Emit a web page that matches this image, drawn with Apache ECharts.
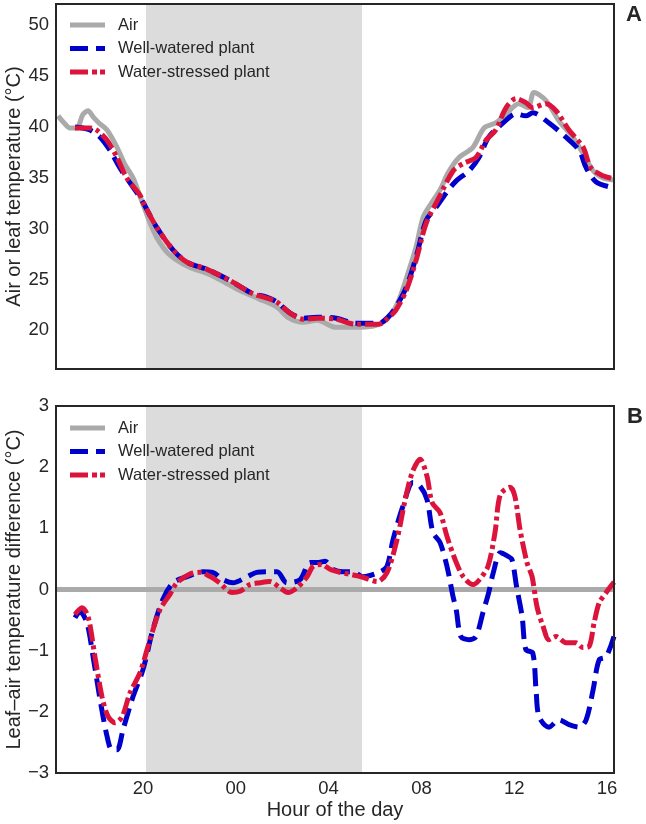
<!DOCTYPE html>
<html>
<head>
<meta charset="utf-8">
<script src="https://cdn.jsdelivr.net/npm/echarts@6/dist/echarts.min.js"></script>
<style>html,body{margin:0;padding:0;background:#fff}#c{width:646px;height:824px}</style>
</head>
<body>
<div id="c"></div>
<script>
// Hours since 16:00 of day 1 (4 = 20:00, 8 = 00:00, ... 24 = 16:00 next day)
const xTickPos = [4, 8, 12, 16, 20, 24];
const xTickLabels = ['20', '00', '04', '08', '12', '16'];
const yTicksTop = [20, 25, 30, 35, 40, 45, 50];
const yTicksBottom = [-3, -2, -1, 0, 1, 2, 3];
const nightStart = 4.13, nightEnd = 13.44;
const seriesNames = ['Air', 'Well-watered plant', 'Water-stressed plant'];

// Panel A: temperatures (°C)
const airT = [0.34,0.6,0.85,1.15,1.4,1.63,1.85,2.1,2.45,2.88,3.2,3.57,3.87,4.1,4.35,4.6,5.03,5.46,6.0,6.76,7.3,8.2,9.0,9.76,10.3,10.9,11.5,12.32,13.18,14.04,14.6,15.03,15.46,15.77,16.07,16.4,16.8,17.15,17.62,18.22,18.7,19.2,19.65,20.2,20.6,20.85,21.37,21.93,22.53,22.97,23.4,23.83,24.3];
const airV = [41.1,40.4,39.9,39.9,41.2,41.6,41.0,40.4,39.7,38.0,36.4,35.0,33.2,31.8,30.3,29.1,27.7,26.9,26.2,25.6,25.0,23.9,23.1,22.3,21.2,20.8,21.0,20.3,20.3,20.5,21.3,23.0,25.9,28.2,31.1,32.4,33.8,35.5,37.0,38.0,39.9,40.4,41.3,42.3,41.9,43.4,42.6,40.6,39.0,37.4,35.7,35.0,34.8];

const wellT = [1.07,1.4,1.72,2.15,2.58,3.0,3.44,3.87,4.0,4.6,5.3,5.9,6.76,7.75,8.74,9.3,9.76,10.34,10.9,11.5,12.32,13.18,14.17,14.56,14.9,15.34,15.77,16.2,16.63,17.06,17.5,18.05,18.48,18.9,19.52,20.08,20.5,20.8,21.5,22.23,22.8,23.1,23.53,24.3];
const wellV = [40.0,39.9,39.7,39.0,37.7,36.0,34.5,33.1,32.6,30.1,27.9,26.7,26.0,24.9,23.6,23.3,22.8,21.7,21.2,21.3,21.2,20.7,20.7,21.3,22.3,24.2,27.2,30.8,32.1,33.5,34.7,35.7,37.0,39.0,40.4,41.3,41.1,41.4,40.4,39.0,37.7,36.0,34.6,34.0];

const stressT = [1.07,1.4,1.72,2.0,2.45,2.88,3.3,3.87,4.0,4.6,5.3,5.9,6.76,7.75,8.74,9.3,9.76,10.34,10.9,11.5,12.32,13.18,14.17,14.56,14.9,15.34,15.77,16.2,16.7,17.37,17.8,18.35,18.78,19.2,19.65,20.08,20.5,20.8,21.37,21.8,22.36,22.97,23.3,23.83,24.3];
const stressV = [39.9,39.9,39.9,39.7,38.7,37.0,35.0,33.3,32.6,30.1,27.9,26.7,26.0,24.9,23.6,23.2,22.8,21.7,21.1,21.2,21.1,20.6,20.6,21.2,22.0,23.9,26.9,30.5,32.8,35.7,36.4,37.0,38.7,39.7,41.9,42.8,42.4,41.9,42.3,41.6,39.7,38.0,36.0,35.2,34.9];

// Panel B: leaf–air differences (°C)
const airDiffT = [0.25, 24.3];
const airDiffV = [0, 0];

const wellDiffT = [1.07,1.28,1.58,1.85,2.15,2.45,2.66,2.88,3.14,3.57,4.0,4.43,4.86,5.3,5.9,6.6,7.0,7.45,7.88,8.5,8.9,9.35,9.78,10.2,10.77,11.2,11.5,11.85,12.19,12.62,13.05,13.48,14.22,14.52,14.78,15.2,15.64,15.94,16.24,16.5,16.8,17.1,17.36,17.5,17.7,18.05,18.35,18.65,18.9,19.1,19.4,19.7,19.9,20.1,20.34,20.5,20.8,20.94,21.07,21.5,21.93,22.36,22.8,23.1,23.4,23.66,23.96,24.3];
const wellDiffV = [-0.46,-0.36,-0.54,-1.1,-1.8,-2.4,-2.62,-2.62,-2.29,-1.75,-1.31,-0.65,-0.16,0.11,0.21,0.29,0.28,0.16,0.11,0.21,0.28,0.29,0.29,0.11,0.16,0.44,0.44,0.46,0.33,0.29,0.29,0.21,0.29,0.38,0.82,1.36,1.75,1.69,1.47,0.93,0.77,0.38,-0.11,-0.33,-0.77,-0.82,-0.77,-0.38,-0.05,0.28,0.6,0.55,0.49,0.05,-0.44,-0.98,-1.04,-1.64,-2.08,-2.25,-2.13,-2.21,-2.25,-2.13,-1.64,-1.15,-1.1,-0.77];

const stressDiffT = [1.07,1.37,1.63,1.93,2.23,2.5,2.8,3.1,3.44,3.87,4.3,4.73,5.16,5.46,6.0,6.46,6.9,7.3,7.84,8.18,8.6,9.04,9.47,9.9,10.25,10.64,11.07,11.33,11.7,12.06,12.5,12.9,13.48,14.1,14.52,14.95,15.3,15.6,15.94,16.24,16.46,16.8,17.1,17.45,17.8,18.22,18.5,18.87,19.17,19.4,19.82,20.03,20.25,20.55,20.77,20.98,21.24,21.5,21.8,22.23,22.66,22.97,23.23,23.44,23.66,23.96,24.3];
const stressDiffV = [-0.41,-0.3,-0.44,-1.1,-1.75,-2.08,-2.18,-2.08,-1.69,-1.36,-0.82,-0.33,-0.08,0.11,0.25,0.28,0.21,0.11,-0.05,-0.03,0.08,0.11,0.13,0.03,-0.05,0.03,0.21,0.38,0.41,0.33,0.28,0.25,0.2,0.13,0.28,0.82,1.47,1.91,2.13,1.85,1.42,1.26,0.87,0.49,0.21,0.08,0.16,0.38,0.93,1.55,1.67,1.52,0.98,0.44,0.21,-0.28,-0.6,-0.82,-0.77,-0.87,-0.87,-0.95,-0.93,-0.55,-0.22,-0.05,0.12];

const FONT = "'Liberation Sans', Arial, sans-serif";
const TXT = '#262626';
const colAir = '#aaaaaa', colWell = '#0000cc', colStress = '#dc143c';
const dashWell = [18, 8], dashStress = [17, 4, 4, 4];
const zip = (t, v) => t.map((x, i) => [x, v[i]]);
const fmtNum = v => v < 0 ? '\u2212' + Math.abs(v) : String(v);

// legend glyphs (35 x 5 px) mimicking each line style
const legendIcons = [
  'path://M0,0H35V5H0Z',
  'path://M0,0H18V5H0Z M26,0H35V5H26Z',
  'path://M0,0H18V5H0Z M22,0H27V5H22Z M30,0H35V5H30Z'
];

function lineSeries(name, t, v, color, dash, idx, z) {
  return {
    name, type: 'line', xAxisIndex: idx, yAxisIndex: idx, data: zip(t, v),
    symbol: 'none', smooth: 0.3, z,
    lineStyle: { color, width: 5, type: dash, cap: 'butt' },
    itemStyle: { color }
  };
}
function shadeSeries(idx) {
  return {
    type: 'line', xAxisIndex: idx, yAxisIndex: idx, data: [], z: 1, silent: true,
    markArea: { silent: true, itemStyle: { color: '#dcdcdc' },
      data: [[{ xAxis: nightStart }, { xAxis: nightEnd }]] }
  };
}
const gridBase = { left: 56, width: 558, show: true, z: 10, borderColor: TXT, borderWidth: 2,
  backgroundColor: 'transparent', containLabel: false, outerBoundsMode: 'none' };
const xBase = {
  type: 'value', min: 0.25, max: 24.3,
  axisLine: { show: false }, axisTick: { show: false }, splitLine: { show: false }
};
const yLabel = { fontSize: 18.5, color: TXT, fontFamily: FONT, margin: 7, formatter: fmtNum };
const legendBase = {
  data: seriesNames.map((n, i) => ({ name: n, icon: legendIcons[i] })),
  orient: 'vertical', left: 70, itemWidth: 35, itemHeight: 5, itemGap: 3.5,
  padding: 0, selectedMode: false,
  textStyle: { fontSize: 16.5, color: TXT, fontFamily: FONT, lineHeight: 20, padding: [0, 0, 0, 8] }
};

const option = {
  animation: false,
  backgroundColor: '#ffffff',
  grid: [
    Object.assign({ top: 4, height: 365 }, gridBase),
    Object.assign({ top: 406, height: 367 }, gridBase)
  ],
  xAxis: [
    Object.assign({ gridIndex: 0, axisLabel: { show: false } }, xBase),
    Object.assign({ gridIndex: 1,
      axisLabel: { customValues: xTickPos, formatter: v => xTickLabels[xTickPos.indexOf(v)],
        fontSize: 18.5, color: TXT, fontFamily: FONT, margin: 6 },
      name: 'Hour of the day', nameLocation: 'middle', nameGap: 27, nameMoveOverlap: false,
      nameTextStyle: { fontSize: 20, color: TXT, fontFamily: FONT } }, xBase)
  ],
  yAxis: [
    { gridIndex: 0, type: 'value', min: 16.2, max: 52.1,
      axisLine: { show: false }, axisTick: { show: false }, splitLine: { show: false },
      axisLabel: Object.assign({ customValues: yTicksTop }, yLabel),
      name: 'Air or leaf temperature (°C)', nameLocation: 'middle', nameGap: 32, nameMoveOverlap: false,
      nameTextStyle: { fontSize: 20, color: TXT, fontFamily: FONT } },
    { gridIndex: 1, type: 'value', min: -3, max: 3,
      axisLine: { show: false }, axisTick: { show: false }, splitLine: { show: false },
      axisLabel: Object.assign({ customValues: yTicksBottom }, yLabel),
      name: 'Leaf\u2013air temperature difference (°C)', nameLocation: 'middle', nameGap: 32, nameMoveOverlap: false,
      nameTextStyle: { fontSize: 20, color: TXT, fontFamily: FONT } }
  ],
  legend: [
    Object.assign({ top: 15 }, legendBase),
    Object.assign({ top: 418 }, legendBase)
  ],
  graphic: [
    { type: 'text', x: 626, y: 15, style: { text: 'A', font: 'bold 22px ' + FONT, fill: TXT, verticalAlign: 'middle' } },
    { type: 'text', x: 627, y: 417, style: { text: 'B', font: 'bold 22px ' + FONT, fill: TXT, verticalAlign: 'middle' } }
  ],
  series: [
    shadeSeries(0),
    lineSeries(seriesNames[0], airT, airV, colAir, 'solid', 0, 2),
    lineSeries(seriesNames[1], wellT, wellV, colWell, dashWell, 0, 3),
    lineSeries(seriesNames[2], stressT, stressV, colStress, dashStress, 0, 4),
    shadeSeries(1),
    lineSeries(seriesNames[0], airDiffT, airDiffV, colAir, 'solid', 1, 2),
    lineSeries(seriesNames[1], wellDiffT, wellDiffV, colWell, dashWell, 1, 3),
    lineSeries(seriesNames[2], stressDiffT, stressDiffV, colStress, dashStress, 1, 4)
  ]
};
const chart = echarts.init(document.getElementById('c'), null, { renderer: 'canvas' });
chart.setOption(option);
</script>
</body>
</html>
